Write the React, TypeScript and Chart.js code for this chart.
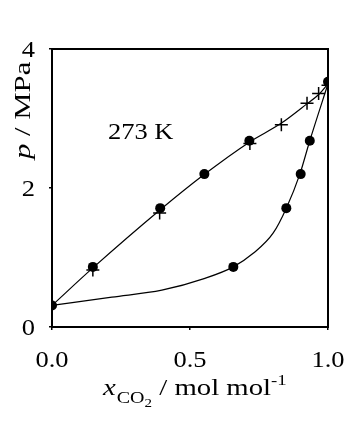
import React, { useEffect, useRef } from "react";
import { Chart, registerables } from "chart.js";

Chart.register(...registerables);

// Bubble-point (liquid) data, filled circles
const bubbleX = [0, 0.148, 0.392, 0.552, 0.715, 1.0];
const bubbleP = [0.31, 0.865, 1.71, 2.2, 2.68, 3.53];
// Dew-point (vapour) data, filled circles
const dewX = [0.657, 0.849, 0.901, 0.934];
const dewP = [0.865, 1.71, 2.2, 2.68];
// Second data set, plus markers
const plusX = [0.148, 0.39, 0.717, 0.831, 0.924, 0.966, 1.0];
const plusP = [0.82, 1.64, 2.64, 2.91, 3.22, 3.36, 3.48];
// Calculated curves
const upperCurveX = [0, 0.148, 0.39, 0.55, 0.715, 0.83, 0.92, 0.97, 1.0];
const upperCurveP = [0.31, 0.85, 1.68, 2.19, 2.66, 2.93, 3.2, 3.36, 3.5];
const lowerCurveX = [0, 0.217, 0.398, 0.554, 0.657, 0.729, 0.801, 0.849, 0.898, 0.934, 1.0];
const lowerCurveP = [0.31, 0.43, 0.53, 0.7, 0.865, 1.06, 1.35, 1.71, 2.2, 2.68, 3.5];

const xTicks = [0, 0.5, 1.0];
const xTickLabels = ["0.0", "0.5", "1.0"];
const yTicks = [0, 2, 4];
const yTickLabels = ["0", "2", "4"];
const tempLabel = "273 K";

const SERIF = "'Liberation Serif', 'Times New Roman', serif";
const SX = 1.15; // horizontal stretch of the reference's type

const textPlugin = {
  id: "textPlugin",
  afterDraw(chart: any) {
    const { ctx, chartArea, scales } = chart;
    ctx.save();
    // frame
    ctx.strokeStyle = "#000";
    ctx.lineWidth = 2;
    ctx.strokeRect(chartArea.left, chartArea.top, chartArea.right - chartArea.left, chartArea.bottom - chartArea.top);
    ctx.fillStyle = "#000";
    ctx.textBaseline = "alphabetic";

    const drawText = (t: string, x: number, y: number, font: string, align: "left" | "center" | "right", sx = SX) => {
      ctx.save();
      ctx.font = font;
      const w = ctx.measureText(t).width * sx;
      let x0 = x;
      if (align === "center") x0 = x - w / 2;
      if (align === "right") x0 = x - w;
      ctx.translate(x0, y);
      ctx.scale(sx, 1);
      ctx.textAlign = "left";
      ctx.fillText(t, 0, 0);
      ctx.restore();
      return w;
    };

    const tickFont = `23px ${SERIF}`;
    xTicks.forEach((v, i) => {
      drawText(xTickLabels[i], scales.x.getPixelForValue(v), 367, tickFont, "center");
    });
    yTicks.forEach((v, i) => {
      drawText(yTickLabels[i], 35, scales.y.getPixelForValue(v) + 8, tickFont, "right");
    });

    // temperature label
    drawText(tempLabel, 108, 139, `23px ${SERIF}`, "left");

    // x-axis title
    const TX = 1.25;
    let x = 103;
    const base = 395;
    x += drawText("x", x, base, `italic 23px ${SERIF}`, "left", TX);
    x += drawText("CO", x + 1, base + 8, `16px ${SERIF}`, "left", TX) + 1;
    x += drawText("2", x, base + 12, `12px ${SERIF}`, "left", TX);
    x += drawText(" / mol mol", x, base, `23px ${SERIF}`, "left", TX);
    drawText("-1", x, base - 10, `15px ${SERIF}`, "left", TX);

    // y-axis title (rotated)
    ctx.save();
    ctx.translate(30, 159);
    ctx.rotate(-Math.PI / 2);
    ctx.scale(1.28, 1);
    ctx.textAlign = "left";
    ctx.font = `italic 24px ${SERIF}`;
    ctx.fillText("p", 0, 0);
    const y = ctx.measureText("p").width;
    ctx.font = `24px ${SERIF}`;
    ctx.fillText(" / MPa", y, 0);
    ctx.restore();

    ctx.restore();
  },
};

const pts = (xs: number[], ys: number[]) => xs.map((x, i) => ({ x, y: ys[i] }));

export default function App() {
  const ref = useRef<HTMLCanvasElement | null>(null);
  useEffect(() => {
    document.body.style.margin = "0";
    if (!ref.current) return;
    const chart = new Chart(ref.current, {
      type: "scatter",
      data: {
        datasets: [
          {
            label: "plus",
            data: pts(plusX, plusP),
            pointStyle: "cross",
            pointRadius: 6.5,
            borderColor: "#000",
            borderWidth: 1.5,
            showLine: false,
          },
          {
            label: "bubble",
            data: pts(bubbleX, bubbleP),
            pointStyle: "circle",
            pointRadius: 5,
            backgroundColor: "#000",
            borderColor: "#000",
            borderWidth: 0,
            showLine: false,
          },
          {
            label: "dew",
            data: pts(dewX, dewP),
            pointStyle: "circle",
            pointRadius: 5,
            backgroundColor: "#000",
            borderColor: "#000",
            borderWidth: 0,
            showLine: false,
          },
          {
            label: "upper",
            data: pts(upperCurveX, upperCurveP),
            showLine: true,
            pointRadius: 0,
            borderColor: "#000",
            borderWidth: 1.2,
            cubicInterpolationMode: "monotone",
          },
          {
            label: "lower",
            data: pts(lowerCurveX, lowerCurveP),
            showLine: true,
            pointRadius: 0,
            borderColor: "#000",
            borderWidth: 1.2,
            cubicInterpolationMode: "monotone",
          },
        ],
      } as any,
      options: {
        animation: false,
        responsive: false,
        maintainAspectRatio: false,
        layout: { padding: { left: 0, top: 49, right: 27, bottom: 0 } },
        plugins: { legend: { display: false }, tooltip: { enabled: false } },
        scales: {
          x: {
            type: "linear",
            min: 0,
            max: 1,
            afterBuildTicks: (s: any) => {
              s.ticks = xTicks.map((v) => ({ value: v }));
            },
            afterFit: (s: any) => {
              s.height = 94;
            },
            ticks: { display: false },
            grid: { drawOnChartArea: false, drawTicks: true, tickLength: 3, color: "#000", lineWidth: 1.5 },
            border: { display: true, color: "#000", width: 2 },
          },
          y: {
            type: "linear",
            min: 0,
            max: 4,
            afterBuildTicks: (s: any) => {
              s.ticks = yTicks.map((v) => ({ value: v }));
            },
            afterFit: (s: any) => {
              s.width = 52;
            },
            ticks: { display: false },
            grid: { drawOnChartArea: false, drawTicks: true, tickLength: 3, color: "#000", lineWidth: 1.5 },
            border: { display: true, color: "#000", width: 2 },
          },
        },
      },
      plugins: [textPlugin],
    });
    return () => chart.destroy();
  }, []);
  return (
    <div style={{ width: 355, height: 421, background: "#fff" }}>
      <canvas ref={ref} width={355} height={421} style={{ display: "block" }} />
    </div>
  );
}
